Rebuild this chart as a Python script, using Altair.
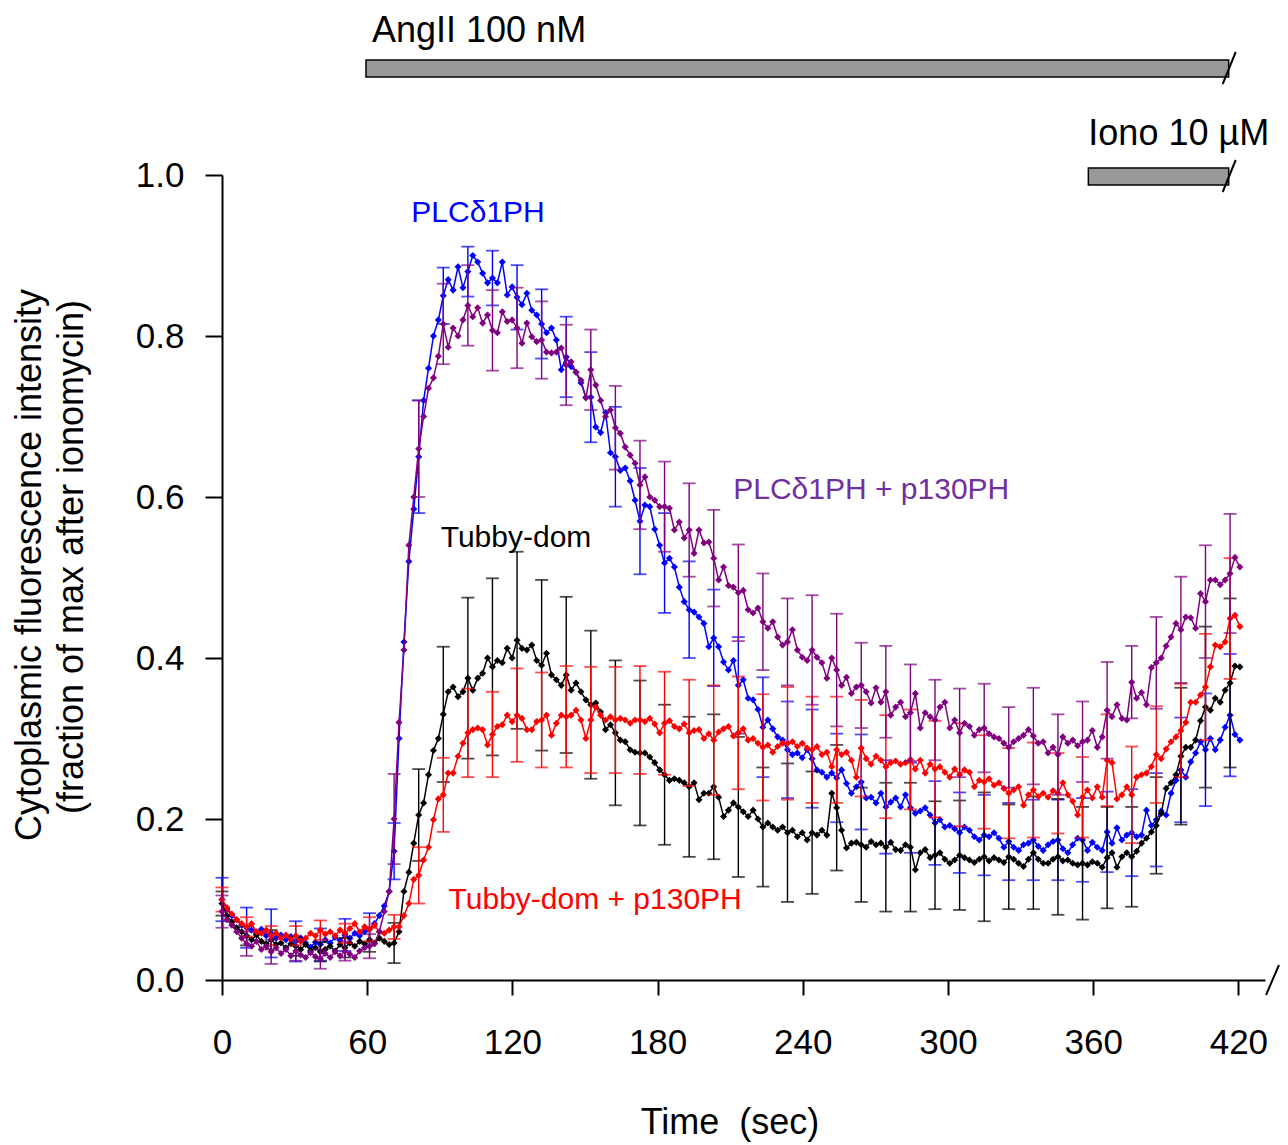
import altair as alt
import pandas as pd

# ---------------- data ----------------
SAMPLE_INTERVAL = 2.032   # seconds between frames
ERR_EVERY = 5             # an error bar every 5th frame

series_names = ["PLCδ1PH", "Tubby-dom", "Tubby-dom + p130PH", "PLCδ1PH + p130PH"]
series_colors = ["#0000FF", "#000000", "#FF0000", "#800080"]

plc_d1ph = [
    0.100, 0.088, 0.080, 0.075, 0.068, 0.065, 0.062, 0.058, 0.063, 0.055,
    0.058, 0.052, 0.056, 0.050, 0.054, 0.048, 0.052, 0.046, 0.041, 0.047,
    0.044, 0.050, 0.046, 0.053, 0.049, 0.056, 0.052, 0.058, 0.055, 0.060,
    0.063, 0.070, 0.080, 0.092, 0.110, 0.160, 0.300, 0.420, 0.520, 0.585,
    0.650, 0.720, 0.760, 0.800, 0.820, 0.850, 0.870, 0.857, 0.886, 0.860,
    0.880, 0.900, 0.892, 0.878, 0.866, 0.872, 0.866, 0.892, 0.851, 0.861,
    0.848, 0.839, 0.853, 0.832, 0.826, 0.815, 0.804, 0.810, 0.795, 0.758,
    0.774, 0.762, 0.755, 0.742, 0.724, 0.724, 0.687, 0.680, 0.705, 0.655,
    0.650, 0.633, 0.636, 0.620, 0.596, 0.570, 0.590, 0.588, 0.560, 0.540,
    0.518, 0.524, 0.513, 0.488, 0.470, 0.460, 0.457, 0.451, 0.443, 0.414,
    0.425, 0.414, 0.395, 0.385, 0.397, 0.366, 0.373, 0.350, 0.348, 0.336,
    0.314, 0.323, 0.312, 0.302, 0.298, 0.286, 0.280, 0.282, 0.276, 0.286,
    0.275, 0.261, 0.258, 0.252, 0.257, 0.251, 0.261, 0.244, 0.232, 0.240,
    0.246, 0.226, 0.227, 0.220, 0.232, 0.215, 0.221, 0.226, 0.215, 0.230,
    0.214, 0.207, 0.210, 0.214, 0.205, 0.195, 0.199, 0.190, 0.192, 0.188,
    0.183, 0.190, 0.186, 0.178, 0.174, 0.180, 0.178, 0.183, 0.176, 0.165,
    0.172, 0.165, 0.161, 0.168, 0.170, 0.174, 0.166, 0.161, 0.168, 0.172,
    0.174, 0.163, 0.158, 0.168, 0.176, 0.174, 0.161, 0.171, 0.165, 0.161,
    0.184, 0.170, 0.189, 0.174, 0.180, 0.183, 0.178, 0.180, 0.211, 0.192,
    0.199, 0.210, 0.205, 0.232, 0.248, 0.261, 0.252, 0.271, 0.282, 0.296,
    0.286, 0.300, 0.286, 0.298, 0.314, 0.329, 0.305, 0.298,
]

tubby_dom = [
    0.095, 0.080, 0.072, 0.065, 0.060, 0.055, 0.050, 0.056, 0.048, 0.045,
    0.050, 0.044, 0.046, 0.040, 0.045, 0.042, 0.038, 0.044, 0.036, 0.040,
    0.035, 0.038, 0.042, 0.036, 0.044, 0.040, 0.046, 0.042, 0.048, 0.045,
    0.050, 0.046, 0.052, 0.048, 0.044, 0.046, 0.060, 0.110, 0.134, 0.170,
    0.205, 0.220, 0.255, 0.285, 0.300, 0.330, 0.358, 0.364, 0.352, 0.358,
    0.375, 0.360, 0.375, 0.381, 0.400, 0.389, 0.397, 0.394, 0.412, 0.400,
    0.422, 0.412, 0.410, 0.416, 0.397, 0.391, 0.406, 0.379, 0.373, 0.366,
    0.379, 0.360, 0.369, 0.358, 0.348, 0.342, 0.344, 0.333, 0.311, 0.317,
    0.307, 0.298, 0.296, 0.286, 0.283, 0.282, 0.282, 0.277, 0.270, 0.261,
    0.255, 0.248, 0.250, 0.248, 0.245, 0.240, 0.245, 0.224, 0.232, 0.232,
    0.240, 0.227, 0.203, 0.211, 0.220, 0.215, 0.209, 0.203, 0.211, 0.200,
    0.190, 0.195, 0.190, 0.186, 0.190, 0.183, 0.186, 0.178, 0.183, 0.174,
    0.183, 0.180, 0.186, 0.180, 0.232, 0.214, 0.186, 0.164, 0.170, 0.171,
    0.168, 0.165, 0.172, 0.168, 0.170, 0.165, 0.171, 0.162, 0.161, 0.168,
    0.165, 0.137, 0.158, 0.162, 0.152, 0.155, 0.158, 0.150, 0.145, 0.149,
    0.155, 0.152, 0.149, 0.146, 0.150, 0.153, 0.148, 0.152, 0.149, 0.146,
    0.153, 0.150, 0.145, 0.141, 0.150, 0.158, 0.150, 0.145, 0.145, 0.150,
    0.153, 0.148, 0.149, 0.145, 0.143, 0.145, 0.143, 0.147, 0.145, 0.140,
    0.152, 0.158, 0.140, 0.153, 0.158, 0.153, 0.160, 0.170, 0.176, 0.184,
    0.192, 0.207, 0.238, 0.245, 0.255, 0.278, 0.289, 0.289, 0.298, 0.322,
    0.339, 0.335, 0.350, 0.345, 0.360, 0.369, 0.390, 0.389,
]

tubby_p130 = [
    0.100, 0.090, 0.082, 0.075, 0.070, 0.066, 0.070, 0.060, 0.058, 0.062,
    0.055, 0.058, 0.052, 0.056, 0.050, 0.055, 0.048, 0.052, 0.058, 0.055,
    0.062, 0.057, 0.060, 0.055, 0.062, 0.058, 0.064, 0.070, 0.060, 0.066,
    0.063, 0.068, 0.060, 0.058, 0.062, 0.066, 0.066, 0.080, 0.095, 0.125,
    0.130, 0.149, 0.165, 0.199, 0.225, 0.230, 0.257, 0.257, 0.278, 0.294,
    0.307, 0.311, 0.313, 0.311, 0.292, 0.305, 0.315, 0.317, 0.329, 0.321,
    0.329, 0.325, 0.311, 0.311, 0.321, 0.323, 0.329, 0.304, 0.319, 0.329,
    0.327, 0.329, 0.335, 0.323, 0.300, 0.323, 0.339, 0.329, 0.323, 0.327,
    0.323, 0.325, 0.323, 0.319, 0.323, 0.323, 0.321, 0.325, 0.318, 0.307,
    0.319, 0.322, 0.315, 0.312, 0.318, 0.307, 0.310, 0.311, 0.300, 0.306,
    0.298, 0.308, 0.312, 0.315, 0.303, 0.307, 0.312, 0.298, 0.300, 0.294,
    0.289, 0.292, 0.283, 0.290, 0.294, 0.294, 0.296, 0.290, 0.294, 0.288,
    0.286, 0.290, 0.280, 0.283, 0.265, 0.286, 0.280, 0.283, 0.273, 0.252,
    0.288, 0.275, 0.268, 0.278, 0.273, 0.265, 0.270, 0.272, 0.268, 0.270,
    0.274, 0.262, 0.273, 0.257, 0.268, 0.262, 0.265, 0.258, 0.252, 0.262,
    0.255, 0.261, 0.258, 0.240, 0.248, 0.246, 0.250, 0.242, 0.245, 0.238,
    0.232, 0.236, 0.240, 0.217, 0.230, 0.236, 0.228, 0.232, 0.227, 0.235,
    0.232, 0.245, 0.230, 0.222, 0.205, 0.227, 0.236, 0.226, 0.240, 0.227,
    0.273, 0.270, 0.225, 0.230, 0.240, 0.230, 0.252, 0.255, 0.257, 0.265,
    0.280, 0.275, 0.287, 0.296, 0.302, 0.310, 0.320, 0.345, 0.345, 0.354,
    0.364, 0.389, 0.416, 0.414, 0.420, 0.449, 0.453, 0.439,
]

plc_p130 = [
    0.085, 0.075, 0.068, 0.060, 0.052, 0.045, 0.042, 0.048, 0.038, 0.042,
    0.035, 0.040, 0.033, 0.038, 0.030, 0.036, 0.031, 0.028, 0.034, 0.029,
    0.026, 0.033, 0.028, 0.035, 0.030, 0.036, 0.032, 0.028, 0.036, 0.040,
    0.042, 0.045, 0.060, 0.085, 0.110, 0.200, 0.320, 0.410, 0.540, 0.600,
    0.660, 0.700, 0.735, 0.748, 0.775, 0.815, 0.786, 0.810, 0.800, 0.820,
    0.838, 0.824, 0.835, 0.816, 0.826, 0.807, 0.804, 0.830, 0.818, 0.820,
    0.810, 0.791, 0.816, 0.799, 0.793, 0.795, 0.780, 0.779, 0.780, 0.785,
    0.764, 0.768, 0.755, 0.745, 0.723, 0.758, 0.739, 0.720, 0.700, 0.708,
    0.686, 0.679, 0.662, 0.652, 0.642, 0.615, 0.625, 0.600, 0.596, 0.588,
    0.588, 0.586, 0.559, 0.569, 0.549, 0.559, 0.530, 0.559, 0.543, 0.544,
    0.524, 0.497, 0.513, 0.490, 0.488, 0.481, 0.484, 0.460, 0.456, 0.462,
    0.445, 0.437, 0.445, 0.426, 0.416, 0.420, 0.435, 0.410, 0.401, 0.397,
    0.410, 0.401, 0.394, 0.375, 0.400, 0.385, 0.366, 0.376, 0.356, 0.364,
    0.366, 0.358, 0.344, 0.363, 0.345, 0.358, 0.329, 0.339, 0.345, 0.327,
    0.332, 0.356, 0.313, 0.332, 0.327, 0.323, 0.339, 0.345, 0.313, 0.323,
    0.307, 0.319, 0.315, 0.304, 0.311, 0.313, 0.306, 0.302, 0.300, 0.294,
    0.289, 0.296, 0.300, 0.304, 0.311, 0.303, 0.294, 0.296, 0.282, 0.289,
    0.280, 0.302, 0.294, 0.298, 0.291, 0.296, 0.298, 0.310, 0.289, 0.302,
    0.335, 0.327, 0.342, 0.325, 0.323, 0.370, 0.350, 0.357, 0.342, 0.388,
    0.394, 0.400, 0.415, 0.426, 0.443, 0.435, 0.451, 0.450, 0.437, 0.480,
    0.470, 0.497, 0.497, 0.491, 0.497, 0.505, 0.525, 0.513,
]

# SEM at every 5th frame (0, 5, 10, ... 205)
plc_d1ph_sem = [0.027, 0.025, 0.030, 0.025, 0.020, 0.020, 0.020, 0.035, 0.070, 0.035,
                0.031, 0.034, 0.040, 0.043, 0.050, 0.056, 0.062, 0.066, 0.062, 0.060,
                0.060, 0.060, 0.062, 0.060, 0.061, 0.055, 0.059, 0.058, 0.056, 0.052,
                0.050, 0.050, 0.048, 0.050, 0.050, 0.052, 0.050, 0.054, 0.058, 0.065,
                0.070, 0.076]
tubby_dom_sem = [0.015, 0.012, 0.012, 0.012, 0.012, 0.012, 0.015, 0.025, 0.057, 0.084,
                 0.100, 0.110, 0.110, 0.106, 0.097, 0.092, 0.090, 0.090, 0.087, 0.087,
                 0.090, 0.087, 0.074, 0.086, 0.076, 0.078, 0.071, 0.080, 0.080, 0.067,
                 0.068, 0.080, 0.065, 0.070, 0.072, 0.070, 0.063, 0.062, 0.060, 0.085,
                 0.100, 0.105]
tubby_p130_sem = [0.015, 0.012, 0.012, 0.012, 0.012, 0.012, 0.015, 0.015, 0.035, 0.046,
                  0.055, 0.053, 0.058, 0.059, 0.063, 0.066, 0.066, 0.067, 0.064, 0.066,
                  0.068, 0.070, 0.066, 0.070, 0.066, 0.066, 0.060, 0.064, 0.062, 0.060,
                  0.064, 0.058, 0.056, 0.059, 0.050, 0.050, 0.057, 0.060, 0.060, 0.058,
                  0.066, 0.075]
plc_p130_sem = [0.020, 0.015, 0.015, 0.012, 0.012, 0.012, 0.015, 0.056, 0.060, 0.050,
                0.050, 0.050, 0.050, 0.048, 0.050, 0.050, 0.052, 0.055, 0.056, 0.058,
                0.060, 0.060, 0.060, 0.054, 0.068, 0.070, 0.053, 0.057, 0.060, 0.050,
                0.055, 0.055, 0.050, 0.060, 0.050, 0.050, 0.060, 0.045, 0.057, 0.066,
                0.070, 0.074]

x_ticks = [0, 60, 120, 180, 240, 300, 360, 420]
y_ticks = [0.0, 0.2, 0.4, 0.6, 0.8, 1.0]

# series labels: text, time (s), value, colour
label_text = ["PLCδ1PH", "PLCδ1PH + p130PH", "Tubby-dom", "Tubby-dom + p130PH"]
label_t = [105.8, 268.3, 121.5, 154.2]
label_v = [0.953, 0.609, 0.549, 0.099]
label_color = ["#0000FF", "#7030A0", "#000000", "#FF0000"]

# stimulus bars
stim_labels = ["AngII 100 nM", "Iono 10 µM"]
stim_start = [59.5, 358.0]
stim_end = [416.0, 416.0]

y_title_lines = ["Cytoplasmic fluorescence intensity", "(fraction of max after ionomycin)"]
x_title = "Time\u00a0 (sec)"

# ---------------- build ----------------
FONT = "Liberation Sans"
W, H = 1043, 805
X_DOMAIN = [0, 431]

x_scale = alt.Scale(domain=X_DOMAIN, nice=False, zero=False)
y_scale = alt.Scale(domain=[0, 1], nice=False, zero=False)
x_axis = alt.Axis(values=x_ticks, title=None, grid=False, labelFontSize=35, labelFont=FONT,
                  labelColor="black", tickSize=15, tickWidth=2, tickColor="black",
                  domainWidth=2, domainColor="black", labelPadding=30, labelFlush=False,
                  labelOverlap=False)
y_axis = alt.Axis(values=y_ticks, format=".1f", title=None, grid=False, labelFontSize=35,
                  labelFont=FONT, labelColor="black", tickSize=17, tickWidth=2,
                  tickColor="black", domainWidth=2, domainColor="black", labelPadding=21,
                  labelFlush=False, labelOverlap=False)


def X(field):
    return alt.X(field, type="quantitative", scale=x_scale, axis=x_axis)


def Y(field):
    return alt.Y(field, type="quantitative", scale=y_scale, axis=y_axis)


all_series = {
    "PLCδ1PH": (plc_d1ph, plc_d1ph_sem),
    "Tubby-dom": (tubby_dom, tubby_dom_sem),
    "Tubby-dom + p130PH": (tubby_p130, tubby_p130_sem),
    "PLCδ1PH + p130PH": (plc_p130, plc_p130_sem),
}
color_of = dict(zip(series_names, series_colors))
draw_order = ["PLCδ1PH", "Tubby-dom", "Tubby-dom + p130PH", "PLCδ1PH + p130PH"]

layers = []
for name in draw_order:
    vals, sems = all_series[name]
    col = color_of[name]
    df = pd.DataFrame({"t": [i * SAMPLE_INTERVAL for i in range(len(vals))], "v": vals})
    idx = [j * ERR_EVERY for j in range(len(sems))]
    edf = pd.DataFrame({
        "t": [i * SAMPLE_INTERVAL for i in idx],
        "lo": [vals[i] - s for i, s in zip(idx, sems)],
        "hi": [vals[i] + s for i, s in zip(idx, sems)],
    })
    base_e = alt.Chart(edf)
    layers.append(base_e.mark_rule(color=col, strokeWidth=1.4).encode(
        x=X("t"), y=Y("lo"), y2="hi:Q"))
    layers.append(base_e.mark_tick(color=col, orient="horizontal", size=13, thickness=1.8).encode(
        x=X("t"), y=Y("lo")))
    layers.append(base_e.mark_tick(color=col, orient="horizontal", size=13, thickness=1.8).encode(
        x=X("t"), y=Y("hi")))
    base = alt.Chart(df)
    layers.append(base.mark_line(color=col, strokeWidth=1.5).encode(
        x=X("t"), y=Y("v"), order="t:Q"))
    layers.append(base.mark_point(color=col, shape="diamond", filled=True, size=50, opacity=1).encode(
        x=X("t"), y=Y("v")))

# series labels
ldf = pd.DataFrame({"text": label_text, "t": label_t, "v": label_v, "color": label_color})
layers.append(alt.Chart(ldf).mark_text(font=FONT, fontSize=30, align="center", baseline="middle").encode(
    x=X("t"), y=Y("v"), text="text:N", color=alt.Color("color:N", scale=None)))

# stimulus bars
sdf = pd.DataFrame({"label": stim_labels, "start": stim_start, "end": stim_end})
bar_top = [-115, -7]
text_base = [-133, -30]
text_dx = [6, 0]
for k in range(len(stim_labels)):
    one = alt.Chart(sdf.iloc[[k]])
    layers.append(one.mark_rect(fill="#999999", stroke="black", strokeWidth=1.5).encode(
        x=X("start"), x2="end:Q", y=alt.value(bar_top[k]), y2=alt.value(bar_top[k] + 17)))
    layers.append(one.mark_rule(color="black", strokeWidth=2, xOffset=-6, x2Offset=7).encode(
        x=X("end"), x2="end:Q", y=alt.value(bar_top[k] + 24), y2=alt.value(bar_top[k] - 8)))
    layers.append(one.mark_text(font=FONT, fontSize=36, align="left", baseline="alphabetic",
                                dx=text_dx[k]).encode(
        x=X("start"), y=alt.value(text_base[k]), text="label:N"))

# axis break slash on x axis
layers.append(alt.Chart(pd.DataFrame({"a": [0]})).mark_rule(color="black", strokeWidth=2).encode(
    x=alt.value(W + 1), x2=alt.value(W + 14), y=alt.value(H + 15), y2=alt.value(H - 15)))

# axis titles (real text)
ytdf = pd.DataFrame({"text": y_title_lines, "k": [0, 1]})
layers.append(alt.Chart(ytdf.iloc[[0]]).mark_text(font=FONT, fontSize=36, angle=270, align="center",
                                                   baseline="middle", color="black").encode(
    x=alt.value(-192), y=alt.value(390), text="text:N"))
layers.append(alt.Chart(ytdf.iloc[[1]]).mark_text(font=FONT, fontSize=36, angle=270, align="center",
                                                   baseline="middle", color="black").encode(
    x=alt.value(-150), y=alt.value(382), text="text:N"))
layers.append(alt.Chart(pd.DataFrame({"text": [x_title]})).mark_text(
    font=FONT, fontSize=36, align="center", baseline="middle", color="black").encode(
    x=alt.value(508), y=alt.value(948), text="text:N"))

chart = alt.layer(*layers).properties(
    width=W, height=H,
    autosize=alt.AutoSizeParams(type="none"),
    padding={"left": 214, "top": 167, "right": 15, "bottom": 162},
).configure(background="white").configure_view(stroke=None)

chart.save("out.html", embed_options={"renderer": "svg", "actions": False})
